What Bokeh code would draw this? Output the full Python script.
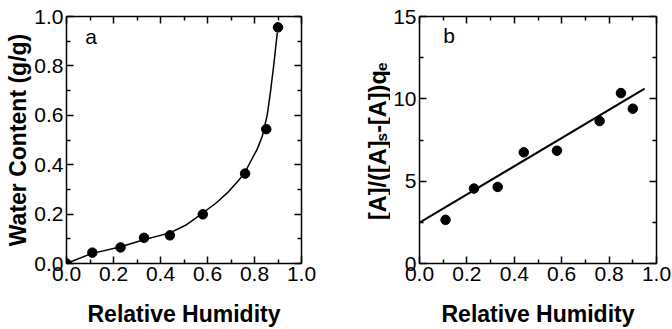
import math
from bokeh.plotting import figure
from bokeh.layouts import row
from bokeh.models import (LinearAxis, FixedTicker, PrintfTickFormatter, Label, Range1d,
                          CustomJSTickFormatter)
from bokeh.embed import file_html
from bokeh.resources import INLINE

# ---- data (panel a) ----
a_rh = [0.0, 0.11, 0.23, 0.33, 0.44, 0.58, 0.76, 0.85, 0.90]
a_wc = [0.0, 0.044, 0.065, 0.104, 0.114, 0.199, 0.364, 0.544, 0.956]
# fitted curve
fit_a_x = [0.0, 0.106, 0.227, 0.333, 0.44, 0.511, 0.574, 0.638, 0.69, 0.733,
           0.76, 0.783, 0.811, 0.833, 0.854, 0.868, 0.882, 0.897]
fit_a_y = [0.0, 0.040, 0.067, 0.097, 0.124, 0.157, 0.200, 0.246, 0.291, 0.337,
           0.370, 0.412, 0.462, 0.515, 0.600, 0.695, 0.804, 0.935]

# ---- data (panel b) ----
b_rh = [0.11, 0.23, 0.33, 0.44, 0.58, 0.76, 0.85, 0.90]
b_val = [2.65, 4.55, 4.65, 6.75, 6.85, 8.65, 10.35, 9.4]
fit_b_x = [0.0, 0.95]
fit_b_y = [2.48, 10.62]

x_ticks = [0.0, 0.2, 0.4, 0.6, 0.8, 1.0]
x_minor = [0.1, 0.3, 0.5, 0.7, 0.9]
a_y_ticks = [0.0, 0.2, 0.4, 0.6, 0.8, 1.0]
a_y_minor = [0.1, 0.3, 0.5, 0.7, 0.9]
b_y_ticks = [0, 5, 10, 15]
b_y_minor = [2.5, 7.5, 12.5]

FONT = "Liberation Sans"
TICK_FS = "21px"
TITLE_FS = "23px"
H = 329
TOP, BOTTOM = 16, 63


def style_axis(ax, ticks, minor, fmt, show_labels=True):
    ax.ticker = FixedTicker(ticks=ticks, minor_ticks=minor)
    ax.major_tick_in = 7
    ax.major_tick_out = 0
    ax.minor_tick_in = 4
    ax.minor_tick_out = 0
    ax.major_tick_line_width = 1.5
    ax.minor_tick_line_width = 1.5
    ax.axis_line_width = 1.5
    ax.axis_line_color = "black"
    ax.major_tick_line_color = "black"
    ax.minor_tick_line_color = "black"
    ax.major_label_text_font = FONT
    ax.major_label_text_color = "black"
    ax.axis_label_text_font = FONT
    ax.axis_label_text_font_style = "bold"
    ax.axis_label_text_font_size = TITLE_FS
    ax.axis_label_text_color = "black"
    if show_labels:
        ax.formatter = PrintfTickFormatter(format=fmt)
        ax.major_label_text_font_size = TICK_FS
        ax.major_label_standoff = 3
    else:
        ax.formatter = CustomJSTickFormatter(code="return ''")
        ax.major_label_standoff = 0


def make_fig(width, left, right, ymax, yt, ym, yfmt):
    p = figure(width=width, height=H, x_range=Range1d(0, 1.0),
               y_range=Range1d(0, ymax), output_backend="svg", toolbar_location=None,
               min_border_left=left, min_border_right=right, min_border_top=TOP,
               min_border_bottom=BOTTOM)
    p.outline_line_color = None
    p.xgrid.visible = False
    p.ygrid.visible = False
    bottom = p.below[0]
    left_ax = p.left[0]
    style_axis(bottom, x_ticks, x_minor, "%.1f")
    style_axis(left_ax, yt, ym, yfmt)
    bottom.axis_label = "Relative Humidity"
    bottom.axis_label_standoff = 17
    top = LinearAxis()
    style_axis(top, x_ticks, x_minor, "%.1f", show_labels=False)
    rt = LinearAxis()
    style_axis(rt, yt, ym, yfmt, show_labels=False)
    p.add_layout(top, "above")
    p.add_layout(rt, "right")
    return p, left_ax


# ---- panel a ----
pa, pa_left = make_fig(336, 66, 35, 1.0, a_y_ticks, a_y_minor, "%.1f")
pa_left.axis_label = "Water Content (g/g)"
pa_left.axis_label_standoff = 0
pa.line(fit_a_x, fit_a_y, line_color="black", line_width=1.5)
pa.scatter(a_rh, a_wc, size=9.5, color="black")
pa.add_layout(Label(x=0.08, y=0.873, text="a", text_font=FONT, text_font_size="21px",
                    text_color="black"))

# ---- panel b y-axis title (with subscripts), drawn in a narrow strip figure ----
LW = 54
lab = figure(width=LW, height=H, x_range=Range1d(0, LW), y_range=Range1d(BOTTOM, H - TOP),
             output_backend="svg", toolbar_location=None, min_border_left=0,
             min_border_right=0, min_border_top=TOP, min_border_bottom=BOTTOM)
lab.axis.visible = False
lab.grid.visible = False
lab.outline_line_color = None
F = 23.5
SUB = 0.66 * F
pieces = [("[A]/([A]", F, 0.0), ("s", SUB, 0.19 * F), ("-[A])q", F, 0.0), ("e", SUB, 0.19 * F)]
em = {"[A]/([A]": 3.387, "s": 0.556, "-[A])q": 2.665, "e": 0.556}
base_x = 41.0
yy = 107.0
for t, fs, shift in pieces:
    lab.add_layout(Label(x=base_x + shift, y=yy, text=t, angle=math.pi / 2,
                         text_font=FONT, text_font_size=f"{fs:.1f}px",
                         text_font_style="bold", text_color="black",
                         text_baseline="alphabetic", text_align="left"))
    yy += em[t] * fs

# ---- panel b ----
pb, pb_left = make_fig(336 - LW, 82 - LW, 16, 15, b_y_ticks, b_y_minor, "%d")
pb.line(fit_b_x, fit_b_y, line_color="black", line_width=2)
pb.scatter(b_rh, b_val, size=9.5, color="black")
pb.add_layout(Label(x=0.1, y=13.13, text="b", text_font=FONT, text_font_size="21px",
                    text_color="black"))

layout = row(pa, lab, pb)
open("out.html", "w").write(file_html(layout, INLINE))
